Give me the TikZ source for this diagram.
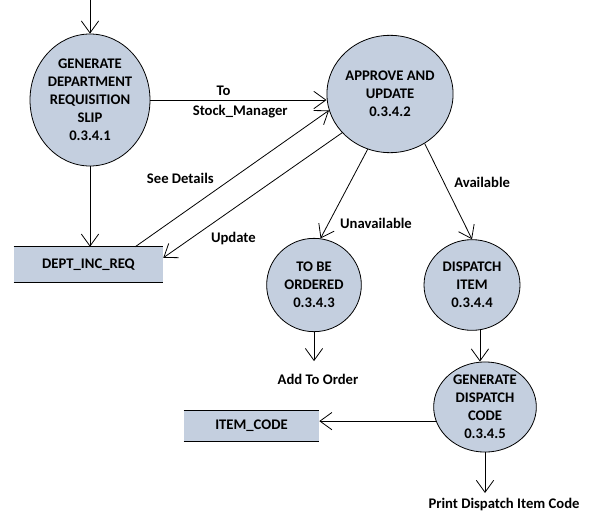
\documentclass[tikz,border=0pt]{standalone}
\usepackage{fontspec}
\setmainfont{Carlito}
\usetikzlibrary{arrows.meta}
\usetikzlibrary{shapes.geometric, arrows, positioning}
\definecolor{procfill}{RGB}{196,207,223}

\begin{document}
\begin{tikzpicture}[
    x=0.75pt, y=-0.75pt,
    >={Straight Barb[length=9pt,width=13pt]},
    every node/.style={font=\bfseries\fontsize{11}{13.5}\selectfont},
    pr/.style={ellipse, draw, fill=procfill, line width=0.6pt, align=center, inner sep=0pt},
    ds/.style={rectangle, fill=procfill, inner sep=0pt},
    fl/.style={->, line width=0.6pt},
]
    \useasboundingbox (0,0) rectangle (602,514);

    \node[pr, minimum width=90pt, minimum height=99pt] (gen) at (90,100)
        {GENERATE\\DEPARTMENT\\REQUISITION\\SLIP\\0.3.4.1};
    \node[pr, minimum width=86pt, minimum height=88pt] (appr) at (390,94)
        {APPROVE AND\\UPDATE\\0.3.4.2};
    \node[pr, minimum width=71pt, minimum height=70pt] (tbo) at (314,285)
        {TO BE\\ORDERED\\0.3.4.3};
    \node[pr, minimum width=72pt, minimum height=68pt] (disp) at (472,285)
        {DISPATCH\\ITEM\\0.3.4.4};
    \node[pr, minimum width=77pt, minimum height=67.5pt] (gdc) at (485,407)
        {GENERATE\\DISPATCH\\CODE\\0.3.4.5};

    % data stores
    \node[ds, minimum width=111.75pt, minimum height=26.25pt] (dept) at (88.5,264.5) {DEPT\_INC\_REQ};
    \draw[line width=0.6pt] (dept.north west) -- (dept.north east) (dept.south west) -- (dept.south east);
    \node[ds, minimum width=101.25pt, minimum height=22.5pt] (item) at (251.5,426) {ITEM\_CODE};
    \draw[line width=0.6pt] (item.north west) -- (item.north east) (item.south west) -- (item.south east);

    \coordinate (src) at (90,0);
    \node (addo) at (318,379) {Add To Order};
    \node (prt) at (504,504) {Print Dispatch Item Code};

    % input -> gen
    \draw[fl] (src) -- (gen.north);

    % gen -> appr
    \draw[fl] (gen.east) -- node[above, pos=0.415]{To} node[below, pos=0.51]{Stock\_Manager} (gen.east -| appr.west);

    % gen -> dept
    \draw[fl] (gen.south) -- (gen.south |- dept.north);

    % dept <-> appr
    \draw[fl] ([xshift=-21pt]dept.north east) -- node[pos=0.43, above left]{See Details} (appr.195);
    \draw[fl] (appr.219) -- node[pos=0.76, below right]{Update} ([yshift=5pt]dept.east);

    % appr -> tbo, appr -> disp
    \draw[fl] (appr.248) -- node[pos=0.83, right=5pt]{Unavailable} (tbo.82);
    \draw[fl] (appr.305) -- node[pos=0.41, right=4pt]{Available} (disp.north);

    % tbo -> add to order
    \draw[fl] (tbo.south) -- ([yshift=6pt]tbo.south |- addo.north);

    % disp -> gdc
    \draw[fl] (disp.-80) -- (disp.-80 |- gdc.north);

    % gdc -> item, gdc -> print
    \draw[fl] (gdc.196) -- (gdc.196 -| item.east);
    \draw[fl] (gdc.south) -- (gdc.south |- prt.north);

\end{tikzpicture}
\end{document}
